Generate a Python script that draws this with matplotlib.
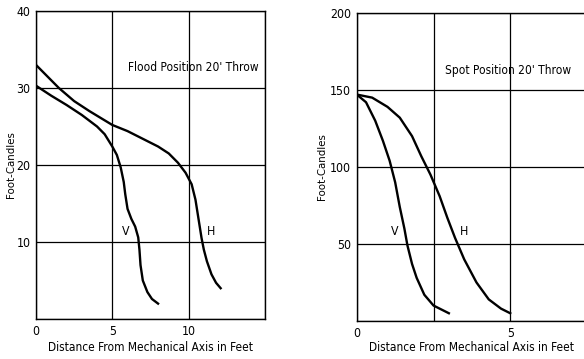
import matplotlib.pyplot as plt

plt.rcParams['font.family'] = ['DejaVu Sans']
plt.rcParams['font.stretch'] = 'condensed'

# flood position, 20' throw
flood_h_x = [0, 0.5, 1, 1.5, 2.5, 3.5, 5, 6, 7, 8, 8.7, 9.3, 9.8, 10.2, 10.45, 10.65, 10.85, 11.0, 11.2, 11.5, 11.8, 12.1]
flood_h_y = [33, 32, 31, 30, 28.3, 27, 25.2, 24.4, 23.4, 22.4, 21.5, 20.3, 19, 17.5, 15.5, 13, 10.5, 9, 7.5, 5.8, 4.7, 4]
flood_v_x = [0, 1, 2, 3, 4, 4.5, 5, 5.3, 5.55, 5.75, 5.85, 6.0, 6.25, 6.5, 6.7, 6.78, 6.85, 7.0, 7.3, 7.6, 8.0]
flood_v_y = [30.3, 29, 27.8, 26.5, 25, 24, 22.4, 21.3, 19.7, 17.8, 16.2, 14.3, 13, 12, 10.6, 9, 7, 5, 3.5, 2.6, 2]

# spot position, 20' throw
spot_h_x = [0, 0.5, 1, 1.4, 1.8, 2.1, 2.4, 2.7, 2.95, 3.2, 3.5, 3.9, 4.3, 4.7, 5.0]
spot_h_y = [147, 145, 139, 132, 120, 107, 95, 81, 67, 54, 40, 25, 14, 8, 5]
spot_v_x = [0, 0.3, 0.6, 0.85, 1.07, 1.25, 1.4, 1.55, 1.65, 1.8, 1.95, 2.2, 2.5, 2.8, 3.0]
spot_v_y = [147, 142, 130, 117, 104, 90, 74, 60, 49, 37, 28, 17, 10, 7, 5]

fig = plt.figure(figsize=(5.84, 3.59), dpi=100)
ax1 = fig.add_axes([0.0616, 0.1114, 0.392, 0.858])
ax2 = fig.add_axes([0.611, 0.106, 0.394, 0.858])


def style(ax, xticks, xlabels, yticks, ylabels, xl_y, yl_x):
    ax.set_xlim(xticks[0], xticks[-1])
    ax.set_ylim(yticks[0], yticks[-1])
    ax.set_xticks(xticks, xlabels)
    ax.set_yticks(yticks, ylabels)
    ax.grid(True, color='black', linewidth=0.9)
    ax.tick_params(length=0, labelsize=8.8, pad=4)
    for s in ax.spines.values():
        s.set_linewidth(1)
    ax.set_xlabel('Distance From Mechanical Axis in Feet', fontsize=8.6)
    ax.set_ylabel('Foot-Candles', fontsize=8.2)
    ax.xaxis.set_label_coords(0.5, xl_y)
    ax.yaxis.set_label_coords(yl_x, 0.5)


style(ax1, [0, 5, 10, 15], ['0', '5', '10', ''], [0, 10, 20, 30, 40], ['', '10', '20', '30', '40'], -0.07, -0.087)
ax1.plot(flood_h_x, flood_h_y, color='black', linewidth=1.7)
ax1.plot(flood_v_x, flood_v_y, color='black', linewidth=1.7)
ax1.text(5.9, 11.3, 'V', fontsize=8.8, ha='center', va='center')
ax1.text(11.5, 11.3, 'H', fontsize=8.8, ha='center', va='center')
ax1.text(6.0, 32.7, "Flood Position 20' Throw", fontsize=8.6, va='center')

style(ax2, [0, 2.5, 5, 7.5], ['0', '', '5', ''], [0, 50, 100, 150, 200], ['', '50', '100', '150', '200'], -0.065, -0.13)
ax2.plot(spot_h_x, spot_h_y, color='black', linewidth=1.7)
ax2.plot(spot_v_x, spot_v_y, color='black', linewidth=1.7)
ax2.text(1.22, 58, 'V', fontsize=8.8, ha='center', va='center')
ax2.text(3.5, 58, 'H', fontsize=8.8, ha='center', va='center')
ax2.text(2.87, 162.5, "Spot Position 20' Throw", fontsize=8.6, va='center')

fig.savefig('out.png', dpi=100)
